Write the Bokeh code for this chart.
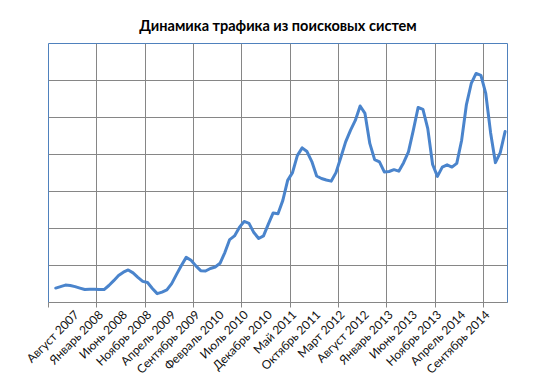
from math import pi
from bokeh.plotting import figure
from bokeh.models import FixedTicker, Range1d
from bokeh.embed import file_html
from bokeh.resources import INLINE

title_text = "Динамика трафика из поисковых систем"

tick_labels = [
    "Август 2007", "Январь 2008", "Июнь 2008", "Ноябрь 2008", "Апрель 2009",
    "Сентябрь 2009", "Февраль 2010", "Июль 2010", "Декабрь 2010", "Май 2011",
    "Октябрь 2011", "Март 2012", "Август 2012", "Январь 2013", "Июнь 2013",
    "Ноябрь 2013", "Апрель 2014", "Сентябрь 2014",
]

# monthly traffic (arbitrary units, one gridline = 1000)
traffic = [
    390, 430, 470, 460, 430, 390, 350, 360, 360, 350,
    350, 460, 590, 730, 820, 880, 800, 680, 570, 540,
    380, 240, 280, 340, 510, 760, 1000, 1220, 1140, 990,
    860, 850, 920, 960, 1060, 1350, 1700, 1800, 2030, 2190,
    2140, 1890, 1730, 1800, 2120, 2420, 2400, 2760, 3300, 3510,
    3970, 4180, 4080, 3810, 3420, 3350, 3310, 3280, 3510, 3920,
    4340, 4650, 4920, 5310, 5110, 4300, 3860, 3800, 3530, 3540,
    3590, 3550, 3780, 4070, 4650, 5270, 5220, 4700, 3730, 3410,
    3660, 3720, 3660, 3760, 4380, 5350, 5920, 6190, 6140, 5650,
    4590, 3780, 4050, 4620,
]

n_slots = 95          # category slots on the axis
first_slot = 1        # first slot holding data
label_step = 5
grid_step = 10

xs = [first_slot + i + 0.5 for i in range(len(traffic))]

p = figure(width=525, height=385, output_backend="svg", toolbar_location=None,
           x_range=Range1d(0, n_slots), y_range=Range1d(0, 7000),
           min_border_left=48, min_border_right=18, min_border_top=43,
           min_border_bottom=83)

p.title.text = title_text
p.title.text_font = "Lato"
p.title.text_font_size = "14.5px"
p.title.text_font_style = "bold"
p.title.text_color = "#000000"
p.title.align = "center"
p.title.offset = -7
p.title.standoff = 19

p.outline_line_color = "#4f81bd"
p.outline_line_width = 1

label_pos = [5.8 + label_step * k for k in range(len(tick_labels))]
grid_pos = list(range(0, n_slots, grid_step))

p.xaxis.ticker = FixedTicker(ticks=label_pos, minor_ticks=grid_pos)
p.xaxis.major_label_overrides = {pos: lab for pos, lab in zip(label_pos, tick_labels)}
p.xaxis.major_label_orientation = pi / 4
p.xaxis.major_label_text_font = "Lato"
p.xaxis.major_label_text_font_size = "12px"
p.xaxis.major_label_text_color = "#111111"
p.xaxis.major_tick_out = 0
p.xaxis.major_tick_in = 0
p.xaxis.minor_tick_out = 5
p.xaxis.minor_tick_in = 0
p.xaxis.minor_tick_line_color = "#868686"
p.xaxis.axis_line_color = "#868686"
p.xaxis.major_label_standoff = 5

p.yaxis.visible = False

p.xgrid.ticker = FixedTicker(ticks=grid_pos)
p.ygrid.ticker = FixedTicker(ticks=list(range(1000, 7001, 1000)))
p.xgrid.grid_line_color = "#868686"
p.ygrid.grid_line_color = "#868686"
p.xgrid.grid_line_width = 1
p.ygrid.grid_line_width = 1

p.line(xs, traffic, line_color="#4a84cc", line_width=3, line_join="round", line_cap="round")

open("out.html", "w").write(file_html(p, INLINE))
